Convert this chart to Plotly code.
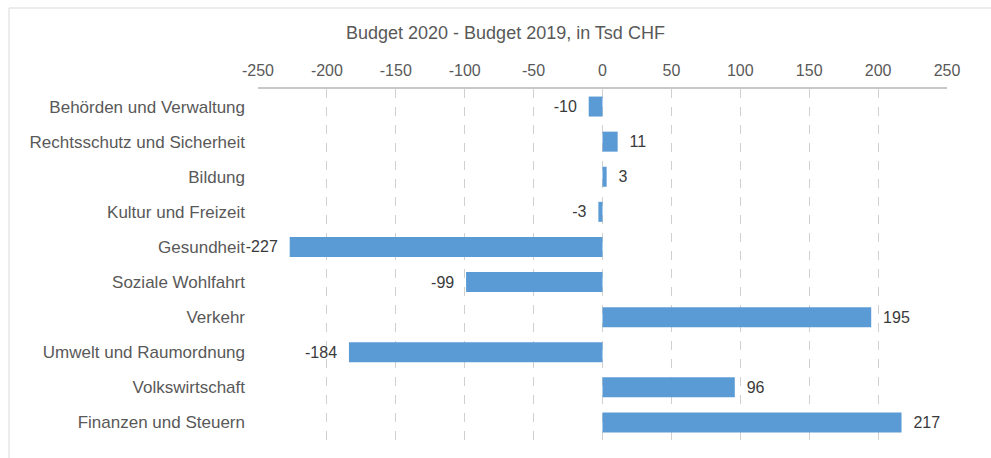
import plotly.graph_objects as go

categories = [
    "Behörden und Verwaltung",
    "Rechtsschutz und Sicherheit",
    "Bildung",
    "Kultur und Freizeit",
    "Gesundheit",
    "Soziale Wohlfahrt",
    "Verkehr",
    "Umwelt und Raumordnung",
    "Volkswirtschaft",
    "Finanzen und Steuern",
]
values = [-10, 11, 3, -3, -227, -99, 195, -184, 96, 217]
x_ticks = [-250, -200, -150, -100, -50, 0, 50, 100, 150, 200, 250]
title_text = "Budget 2020 - Budget 2019, in Tsd CHF"

W, H = 991, 458
L, R, T, B = 258, 44, 89, 18
pw = W - L - R
ph = H - T - B

def px_x(p):
    return (p - L) / pw

def px_y(p):
    return (H - B - p) / ph

NB = "\u00a0\u00a0"
labels = [(str(v) + NB) if v < 0 else (NB + str(v)) for v in values]

FONT = "Liberation Sans, Arial, sans-serif"

fig = go.Figure(
    go.Bar(
        x=values,
        y=categories,
        orientation="h",
        marker=dict(color="#5B9BD5", line=dict(width=0)),
        text=labels,
        textposition="outside",
        textfont=dict(family=FONT, size=16, color="#3A3A3A"),
        cliponaxis=False,
    )
)

fig.update_layout(
    width=W,
    height=H,
    margin=dict(l=L, r=R, t=T, b=B),
    paper_bgcolor="white",
    plot_bgcolor="white",
    bargap=0.43,
    showlegend=False,
    font=dict(family=FONT, size=16, color="#595959"),
    xaxis=dict(
        side="top",
        range=[-250, 250],
        tickvals=x_ticks,
        ticktext=[str(t) for t in x_ticks],
        showgrid=True,
        gridcolor="#D0D0D0",
        griddash="dash",
        gridwidth=1,
        zeroline=False,
        showline=True,
        linecolor="#C8C8C8",
        linewidth=2,
        ticks="",
        ticklabelstandoff=5,
        tickfont=dict(family=FONT, size=16, color="#595959"),
    ),
    yaxis=dict(
        autorange="reversed",
        showgrid=False,
        zeroline=False,
        showline=False,
        ticks="",
        ticklabelstandoff=12,
        tickfont=dict(family=FONT, size=17, color="#595959"),
    ),
    annotations=[
        dict(
            text=title_text,
            xref="paper",
            yref="paper",
            x=px_x(505),
            y=px_y(33),
            xanchor="center",
            yanchor="middle",
            showarrow=False,
            font=dict(family=FONT, size=18, color="#595959"),
        )
    ],
    shapes=[
        dict(
            type="rect",
            xref="paper",
            yref="paper",
            x0=px_x(9),
            x1=px_x(1010),
            y0=px_y(480),
            y1=px_y(8),
            line=dict(color="#D9D9D9", width=1),
            fillcolor="rgba(0,0,0,0)",
            layer="below",
        )
    ],
)

fig.write_html("out.html")
